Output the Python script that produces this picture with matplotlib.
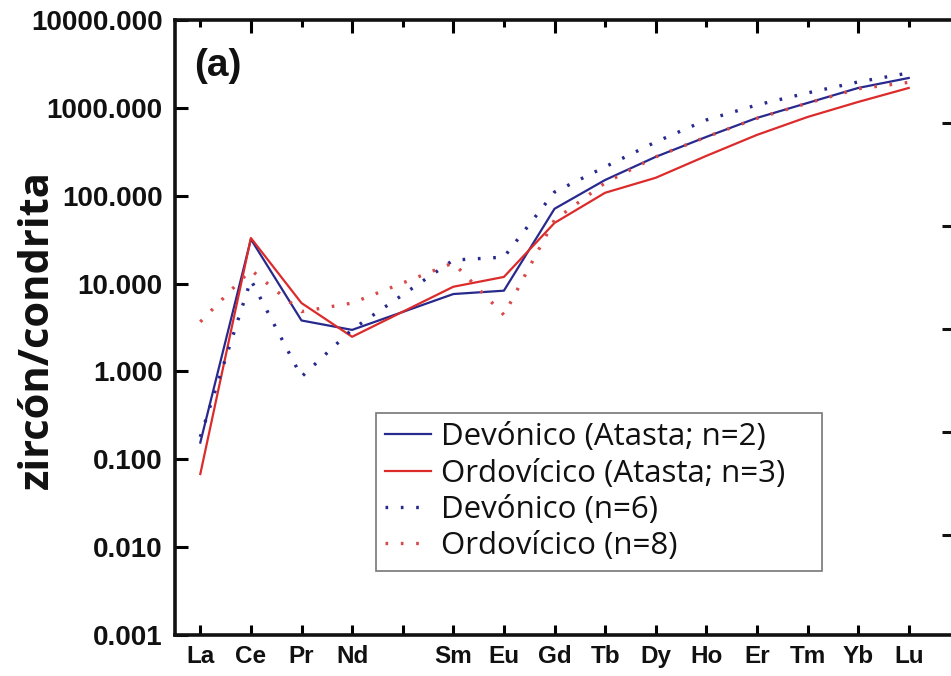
import matplotlib
matplotlib.use("Agg")
import matplotlib.pyplot as plt
from matplotlib.font_manager import FontProperties
from matplotlib.ticker import FixedLocator, FixedFormatter, NullFormatter

# Rare earth elements (Pm omitted, its slot kept as a gap)
elements = ["La", "Ce", "Pr", "Nd", "Pm", "Sm", "Eu", "Gd", "Tb", "Dy", "Ho", "Er", "Tm", "Yb", "Lu"]
ree = ["La", "Ce", "Pr", "Nd", "Sm", "Eu", "Gd", "Tb", "Dy", "Ho", "Er", "Tm", "Yb", "Lu"]

# Chondrite-normalised zircon REE patterns
devonico_atasta = [0.155, 32, 3.8, 2.97, 7.6, 8.3, 71, 151, 277, 467, 768, 1137, 1684, 2188]
ordovicico_atasta = [0.068, 33, 6.0, 2.48, 9.2, 11.9, 49, 108, 160, 284, 492, 787, 1167, 1684]
devonico_n6 = [0.18, 11, 0.87, 3.0, 18.5, 20, 110, 213, 409, 728, 1079, 1479, 1972, 2495]
ordovicico_n8 = [3.67, 14.3, 4.8, 6.0, 17.2, 4.4, 53, 140, 277, 467, 760, 1130, 1650, 1950]

yticks = [0.001, 0.01, 0.1, 1, 10, 100, 1000, 10000]
ytick_labels = ["0.001", "0.010", "0.100", "1.000", "10.000", "100.000", "1000.000", "10000.000"]

labels = ["Devónico (Atasta; n=2)", "Ordovícico (Atasta; n=3)",
          "Devónico (n=6)", "Ordovícico (n=8)"]

BLUE = "#28298c"
RED = "#dc2b2b"
RED_DOT = "#d84a4a"
INK = "#111111"

W, H = 951, 676
fig = plt.figure(figsize=(W / 100, H / 100), dpi=100)

x0, x1 = 175, 175 + 16 * 50.6   # axes extends past the right edge
y_top, y_bot = 20, 635
ax = fig.add_axes([x0 / W, 1 - y_bot / H, (x1 - x0) / W, (y_bot - y_top) / H])

xpos = [elements.index(e) for e in ree]

dot = (0, (0.8, 3.8))
ax.plot(xpos, devonico_atasta, color=BLUE, lw=1.6, label=labels[0])
ax.plot(xpos, ordovicico_atasta, color=RED, lw=1.6, label=labels[1])
ax.plot(xpos, devonico_n6, color=BLUE, lw=2.4, linestyle=dot, label=labels[2])
ax.plot(xpos, ordovicico_n8, color=RED_DOT, lw=2.4, linestyle=dot, label=labels[3])

ax.set_yscale("log")
ax.set_ylim(0.001, 10000)
ax.set_xlim(-0.5, 15.5)

ax.yaxis.set_major_locator(FixedLocator(yticks))
ax.yaxis.set_major_formatter(FixedFormatter(ytick_labels))
ax.yaxis.set_minor_locator(FixedLocator([]))
ax.yaxis.set_minor_formatter(NullFormatter())

ax.set_xticks(range(len(elements)))
ax.set_xticklabels([e if e != "Pm" else "" for e in elements])

for t in ax.get_yticklabels():
    t.set_fontproperties(FontProperties(family="Liberation Sans", weight="bold", size=20))
    t.set_color(INK)
for t in ax.get_xticklabels():
    t.set_fontproperties(FontProperties(family="Liberation Sans", weight="bold", size=17.5))
    t.set_color(INK)

ax.tick_params(axis="y", which="major", direction="in", length=9, width=2.2, pad=9, left=True, right=False)
ax.tick_params(axis="x", which="major", direction="in", length=7, width=2.2, pad=7, top=False)

for side in ["left", "bottom", "top"]:
    ax.spines[side].set_linewidth(2.6)
    ax.spines[side].set_color(INK)
ax.spines["right"].set_visible(False)

# Tick marks along the top edge: longer at odd positions
top = ax.secondary_xaxis("top")
top.set_xticks([i for i in range(len(elements)) if i % 2 == 1])
top.set_xticks([i for i in range(len(elements)) if i % 2 == 0], minor=True)
top.tick_params(which="major", direction="in", length=9, width=2.2, labeltop=False)
top.tick_params(which="minor", direction="in", length=5, width=2.2, labeltop=False)
top.spines["top"].set_visible(False)

fig.text(37 / W, 1 - 330 / H, "zircón/condrita", rotation=90, fontsize=30, fontweight="bold",
         family="Open Sans", color=INK, ha="center", va="center")

fig.text(194 / W, 1 - 66 / H, "(a)", fontsize=28, fontweight="bold", family="Liberation Sans",
         color=INK, va="center", ha="left")

# Legend box spans a fixed width (x from 376 to 822 px, top at 413 px)
lx = (376 - x0) / (x1 - x0)
lw_ = (822 - 376) / (x1 - x0)
ly = (y_bot - 413) / (y_bot - y_top)
leg = ax.legend(loc="upper left", bbox_to_anchor=(lx, ly - 0.3, lw_, 0.3), mode="expand",
                prop=dict(family="Open Sans", size=22.5), frameon=True, fancybox=False,
                edgecolor="#555555", handlelength=1.45, handletextpad=0.32, borderpad=0.3,
                labelspacing=0.2, borderaxespad=0)
leg.get_frame().set_linewidth(1.2)
for t in leg.get_texts():
    t.set_color(INK)

# Neighbouring panel's y ticks peeking in at the right edge
ax2 = fig.add_axes([953 / W, 1 - 638 / H, 0.2, 618 / H])
ax2.set_ylim(0, 6)
ax2.set_xticks([])
ax2.set_yticks([1, 2, 3, 4, 5])
ax2.set_yticklabels([])
ax2.tick_params(axis="y", direction="out", length=8, width=2.2, colors=INK)
for s in ax2.spines.values():
    s.set_visible(False)
ax2.patch.set_alpha(0)

fig.savefig("out.png", dpi=100)
